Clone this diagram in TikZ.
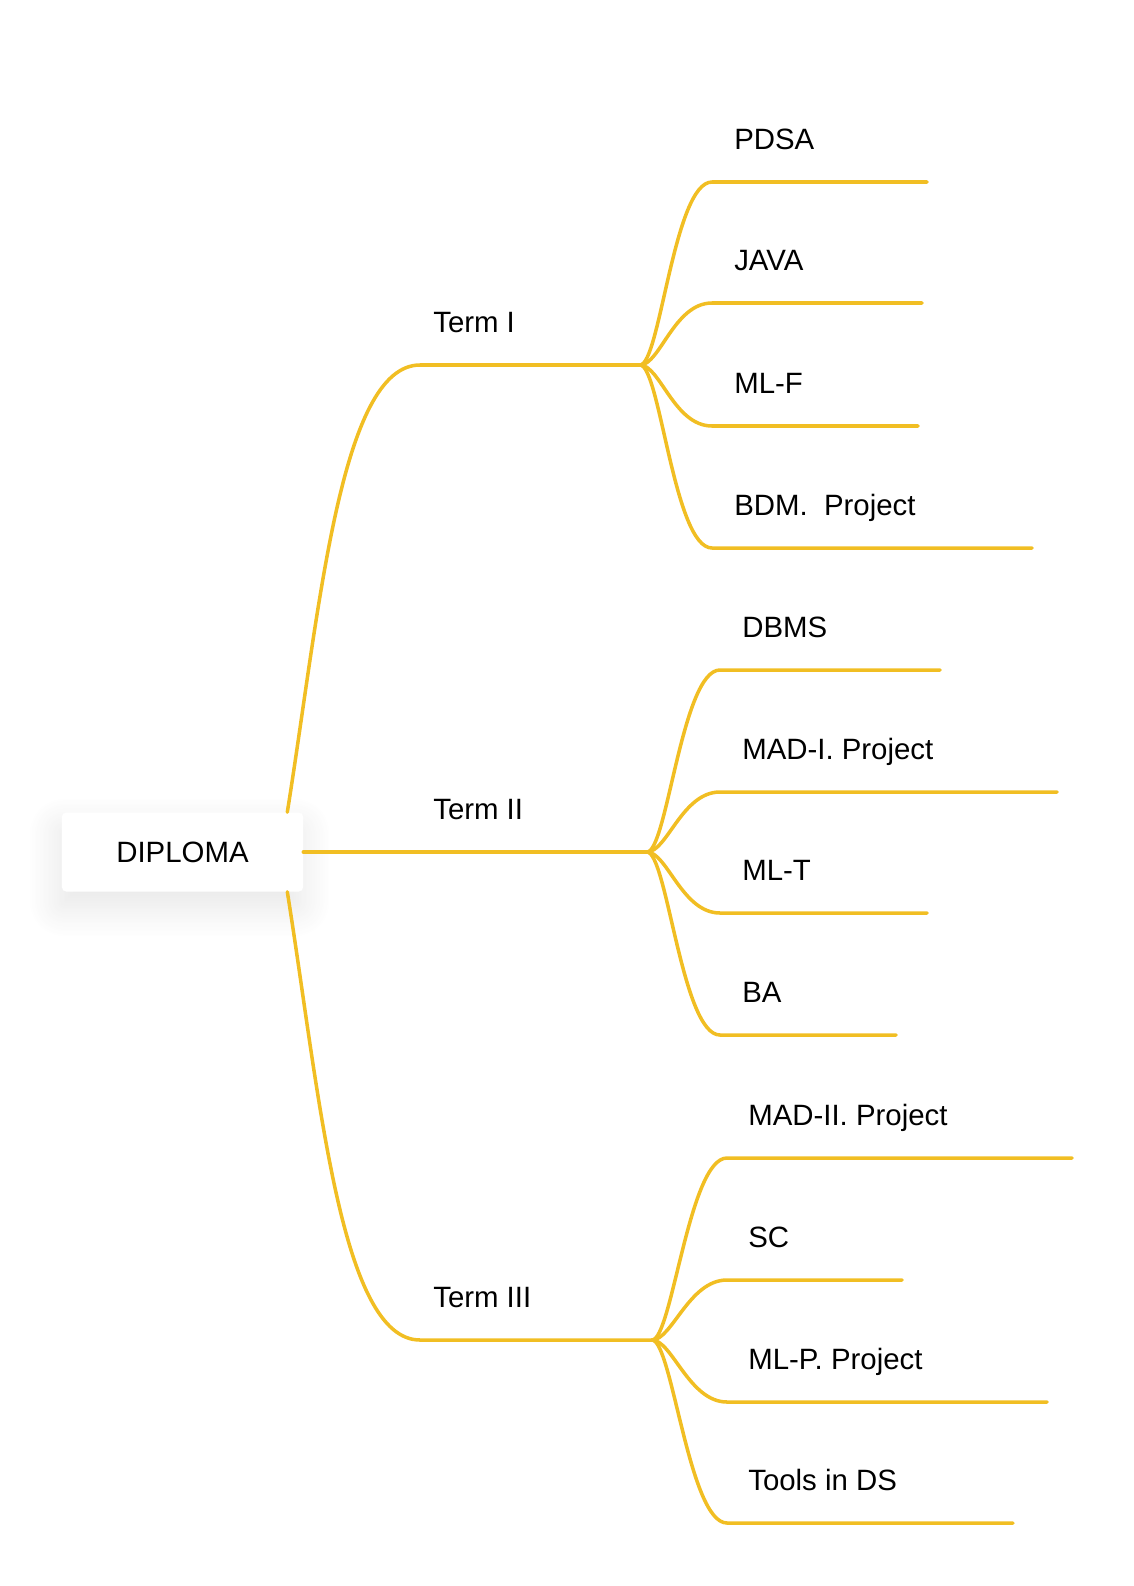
\documentclass[tikz,border=0pt]{standalone}
\usepackage{fontspec}
\setmainfont{Liberation Sans}
\usetikzlibrary{calc, shadows.blur}
\definecolor{branchyellow}{RGB}{241,190,35}
\tikzset{branch/.style = {draw = branchyellow, line width = 2.5pt, line cap = round}}
\tikzset{itemtext/.style = {anchor = base west, inner sep = 0pt, font = \fontsize{20.9}{25}\selectfont}}
\tikzset{rootbox/.style = {fill = white, rounded corners = 3pt, minimum width = 6.025cm, minimum height = 1.975cm,
  font = \fontsize{20.9}{25}\selectfont,
  blur shadow = {shadow xshift = -2pt, shadow yshift = -11pt, shadow blur radius = 22pt, shadow blur steps = 20, shadow opacity = 10}}}

\begin{document}
\begin{tikzpicture}[x = 0.025cm, y = -0.025cm]
\useasboundingbox (0,0) rectangle (1133,1586);
\node[rootbox] (root) at (182.5,852) {DIPLOMA};
\coordinate (t1in) at (420,365);
\coordinate (t1) at (640,365);
\coordinate (t2) at (647,852);
\coordinate (t3in) at (420,1340);
\coordinate (t3) at (652,1340);
\draw[branch] ($(root.north east)+(-16,0)$) .. controls +(32,-200) and +(-80,0) .. (t1in) -- (t1);
\draw[branch] (root.east) -- (t2);
\draw[branch] ($(root.south east)+(-16,0)$) .. controls +(32,200) and +(-80,0) .. (t3in) -- (t3);
\node[itemtext] (term1) at (433,332) {Term I};
\node[itemtext] (term2) at (433,819) {Term II};
\node[itemtext] (term3) at (433,1307) {Term III};

\coordinate (pdsa s) at (712,182); \coordinate (pdsa e) at (927,182);
\coordinate (java s) at (712,303); \coordinate (java e) at (922,303);
\coordinate (mlf s) at (712,426); \coordinate (mlf e) at (918,426);
\coordinate (bdm s) at (712,548); \coordinate (bdm e) at (1032,548);
\node[itemtext] (pdsa) at (734,149) {PDSA};
\node[itemtext] (java) at (734,270) {JAVA};
\node[itemtext] (mlf) at (734,393) {ML-F};
\node[itemtext] (bdm) at (734,515) {BDM.\ \ Project};
\draw[branch] (t1) .. controls +(20,0) and +(-38,0) .. (pdsa s) -- (pdsa e);
\draw[branch] (t1) .. controls +(20,0) and +(-38,0) .. (java s) -- (java e);
\draw[branch] (t1) .. controls +(20,0) and +(-38,0) .. (mlf s) -- (mlf e);
\draw[branch] (t1) .. controls +(20,0) and +(-38,0) .. (bdm s) -- (bdm e);

\coordinate (dbms s) at (720,670); \coordinate (dbms e) at (940,670);
\coordinate (madi s) at (720,792); \coordinate (madi e) at (1057,792);
\coordinate (mlt s) at (720,913); \coordinate (mlt e) at (927,913);
\coordinate (ba s) at (720,1035); \coordinate (ba e) at (896,1035);
\node[itemtext] (dbms) at (742,637) {DBMS};
\node[itemtext] (madi) at (742,759) {MAD-I. Project};
\node[itemtext] (mlt) at (742,880) {ML-T};
\node[itemtext] (ba) at (742,1002) {BA};
\draw[branch] (t2) .. controls +(20,0) and +(-38,0) .. (dbms s) -- (dbms e);
\draw[branch] (t2) .. controls +(20,0) and +(-38,0) .. (madi s) -- (madi e);
\draw[branch] (t2) .. controls +(20,0) and +(-38,0) .. (mlt s) -- (mlt e);
\draw[branch] (t2) .. controls +(20,0) and +(-38,0) .. (ba s) -- (ba e);

\coordinate (madii s) at (727,1158); \coordinate (madii e) at (1072,1158);
\coordinate (sc s) at (727,1280); \coordinate (sc e) at (902,1280);
\coordinate (mlp s) at (727,1402); \coordinate (mlp e) at (1047,1402);
\coordinate (tools s) at (727,1523); \coordinate (tools e) at (1013,1523);
\node[itemtext] (madii) at (748,1125) {MAD-II. Project};
\node[itemtext] (sc) at (748,1247) {SC};
\node[itemtext] (mlp) at (748,1369) {ML-P. Project};
\node[itemtext] (tools) at (748,1490) {Tools in DS};
\draw[branch] (t3) .. controls +(20,0) and +(-38,0) .. (madii s) -- (madii e);
\draw[branch] (t3) .. controls +(20,0) and +(-38,0) .. (sc s) -- (sc e);
\draw[branch] (t3) .. controls +(20,0) and +(-38,0) .. (mlp s) -- (mlp e);
\draw[branch] (t3) .. controls +(20,0) and +(-38,0) .. (tools s) -- (tools e);
\end{tikzpicture}
\end{document}
